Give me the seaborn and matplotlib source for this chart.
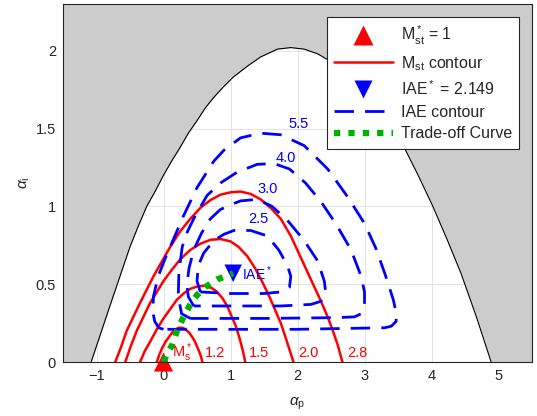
import numpy as np
import pandas as pd
import matplotlib
matplotlib.use("Agg")
import matplotlib.pyplot as plt
import seaborn as sns
from matplotlib.lines import Line2D

# ---------------- data ----------------
# stability boundary (alpha_p, alpha_i)
boundary_x = [-1.08, -0.94, -0.8, -0.65, -0.5, -0.37, -0.25, -0.12, 0.0, 0.12, 0.25, 0.37, 0.5, 0.62, 0.75,
              0.9, 1.04, 1.25, 1.45, 1.7, 1.9, 2.1, 2.3, 2.5, 2.7, 2.9, 3.1, 3.35, 3.59, 3.8, 4.02, 4.23,
              4.44, 4.67, 4.89]
boundary_y = [0.0, 0.18, 0.36, 0.55, 0.74, 0.88, 1.0, 1.1, 1.2, 1.29, 1.38, 1.47, 1.55, 1.63, 1.7,
              1.77, 1.83, 1.9, 1.96, 2.01, 2.02, 2.01, 1.98, 1.93, 1.87, 1.78, 1.68, 1.54, 1.38, 1.2, 1.0, 0.79,
              0.57, 0.29, 0.0]

# Mst contours
ms_levels = ["1.2", "1.5", "2.0", "2.8"]
ms12_x = [-0.10, -0.06, -0.02, 0.03, 0.08, 0.13, 0.18, 0.23, 0.28, 0.33, 0.38, 0.43, 0.47, 0.5, 0.53, 0.56, 0.58]
ms12_y = [0.0, 0.05, 0.09, 0.13, 0.16, 0.19, 0.21, 0.22, 0.22, 0.21, 0.19, 0.16, 0.13, 0.10, 0.07, 0.035, 0.0]
ms15_x = [-0.35, -0.28, -0.2, -0.1, 0.0, 0.1, 0.2, 0.3, 0.4, 0.5, 0.62, 0.72, 0.8, 0.88, 0.95, 1.02, 1.08, 1.13, 1.18, 1.22]
ms15_y = [0.0, 0.07, 0.13, 0.21, 0.28, 0.34, 0.40, 0.44, 0.47, 0.485, 0.49, 0.475, 0.45, 0.41, 0.36, 0.29, 0.23, 0.16, 0.08, 0.0]
ms20_x = [-0.57, -0.49, -0.4, -0.3, -0.2, 0.0, 0.12, 0.25, 0.4, 0.55, 0.7, 0.85, 1.0, 1.12, 1.25, 1.37, 1.48,
          1.58, 1.67, 1.75, 1.82, 1.88, 1.94]
ms20_y = [0.0, 0.1, 0.2, 0.29, 0.38, 0.52, 0.59, 0.66, 0.72, 0.76, 0.785, 0.79, 0.775, 0.74, 0.68, 0.60, 0.51,
          0.42, 0.33, 0.25, 0.16, 0.08, 0.0]
ms28_x = [-0.72, -0.63, -0.55, -0.45, -0.35, -0.15, 0.1, 0.25, 0.4, 0.55, 0.7, 0.85, 1.0, 1.15, 1.3, 1.45, 1.6,
          1.75, 1.9, 2.05, 2.2, 2.34, 2.45, 2.52, 2.6, 2.67]
ms28_y = [0.0, 0.1, 0.2, 0.29, 0.38, 0.55, 0.74, 0.84, 0.92, 0.99, 1.04, 1.075, 1.09, 1.095, 1.08, 1.045, 0.99,
          0.92, 0.81, 0.67, 0.53, 0.40, 0.29, 0.21, 0.11, 0.0]
ms_label_x = [0.77, 1.42, 2.17, 2.9]
ms_label_y = [0.06, 0.06, 0.06, 0.06]

# IAE contours (closed loops)
iae_levels = ["2.5", "3.0", "4.0", "5.5"]
iae25_x = [0.55, 0.5, 0.52, 0.6, 0.75, 0.9, 1.05, 1.3, 1.55, 1.72, 1.85, 1.9, 1.88, 1.75, 1.5, 1.0, 0.55]
iae25_y = [0.45, 0.52, 0.62, 0.70, 0.78, 0.82, 0.845, 0.845, 0.81, 0.72, 0.62, 0.55, 0.48, 0.45, 0.44, 0.44, 0.45]
iae30_x = [0.45, 0.37, 0.35, 0.38, 0.45, 0.57, 0.7, 0.85, 1.0, 1.15, 1.4, 1.62, 1.85, 2.1, 2.3, 2.4, 2.42, 2.35,
           2.2, 1.75, 1.0, 0.45]
iae30_y = [0.36, 0.42, 0.5, 0.6, 0.72, 0.83, 0.92, 0.98, 1.01, 1.035, 1.045, 1.0, 0.91, 0.78, 0.65, 0.52, 0.45,
           0.39, 0.37, 0.36, 0.36, 0.36]
iae40_x = [0.4, 0.27, 0.22, 0.23, 0.28, 0.36, 0.45, 0.65, 0.85, 1.1, 1.4, 1.65, 1.88, 2.12, 2.35, 2.57, 2.8,
           2.95, 3.0, 3.0, 2.95, 2.85, 2.6, 1.5, 0.4]
iae40_y = [0.28, 0.31, 0.42, 0.58, 0.74, 0.84, 0.92, 1.07, 1.15, 1.22, 1.27, 1.275, 1.24, 1.15, 1.03, 0.89, 0.72,
           0.55, 0.45, 0.36, 0.31, 0.29, 0.285, 0.28, 0.28]
iae55_x = [0.0, -0.07, -0.13, -0.16, -0.15, -0.08, 0.02, 0.15, 0.3, 0.5, 0.75, 0.9, 1.15, 1.45, 1.75, 2.1, 2.45,
           2.75, 3.0, 3.17, 3.31, 3.43, 3.48, 3.47, 3.4, 3.3, 2.0, 0.0]
iae55_y = [0.21, 0.22, 0.26, 0.32, 0.42, 0.55, 0.66, 0.79, 0.94, 1.12, 1.29, 1.36, 1.44, 1.47, 1.46, 1.39, 1.24,
           1.06, 0.89, 0.73, 0.56, 0.40, 0.30, 0.26, 0.23, 0.22, 0.21, 0.21]
iae_label_x = [1.42, 1.55, 1.82, 2.02]
iae_label_y = [0.92, 1.11, 1.31, 1.53]

# optimum points
ms_opt = (0.0, 0.0)
iae_opt = (1.04, 0.57)

# trade-off curve
trade_x = [0.0, 0.05, 0.13, 0.2, 0.3, 0.4, 0.5, 0.62, 0.8, 0.92, 1.04]
trade_y = [0.0, 0.05, 0.11, 0.2, 0.29, 0.37, 0.43, 0.48, 0.53, 0.55, 0.57]

x_ticks = [-1, 0, 1, 2, 3, 4, 5]
y_ticks = [0, 0.5, 1, 1.5, 2]
y_tick_labels = ["0", "0.5", "1", "1.5", "2"]

# ---------------- style ----------------
sns.set_style("white")
plt.rcParams["font.family"] = ["Liberation Sans", "DejaVu Sans"]
plt.rcParams["mathtext.fontset"] = "custom"
plt.rcParams["mathtext.rm"] = "Liberation Sans"
plt.rcParams["mathtext.it"] = "Liberation Sans:italic"
plt.rcParams["mathtext.bf"] = "Liberation Sans:bold"

DARK = "#262626"
RED = "#ff0000"
BLUE = "#0000ff"
GREEN = "#00b000"
GRAY = "#cccccc"
XMIN, XMAX, YMIN, YMAX = -1.5, 5.5, 0.0, 2.3

fig = plt.figure(figsize=(5.37, 4.16), dpi=100)
ax = fig.add_axes([63 / 537, 54 / 416, 469 / 537, 358 / 416])
ax.set_axisbelow(True)
ax.grid(True, color="#e3e3e3", lw=0.7)

# unstable region
fx = [XMIN] + boundary_x + [XMAX]
fy = [0.0] + boundary_y + [0.0]
ax.fill_between(fx, fy, YMAX, color=GRAY, lw=0, zorder=1)
sns.lineplot(x=boundary_x, y=boundary_y, sort=False, estimator=None, color="black", lw=0.8, ax=ax, legend=False, zorder=2)

# Mst contours
for cx, cy in [(ms12_x, ms12_y), (ms15_x, ms15_y), (ms20_x, ms20_y), (ms28_x, ms28_y)]:
    sns.lineplot(x=cx, y=cy, sort=False, estimator=None, color=RED, lw=1.8, ax=ax, legend=False, zorder=3)

# IAE contours
for cx, cy in [(iae25_x, iae25_y), (iae30_x, iae30_y), (iae40_x, iae40_y), (iae55_x, iae55_y)]:
    sns.lineplot(x=cx, y=cy, sort=False, estimator=None, color=BLUE, lw=2.0,
                 linestyle=(0, (7, 4)), ax=ax, legend=False, zorder=3)

# optimum markers
sns.scatterplot(x=[ms_opt[0]], y=[ms_opt[1]], marker="^", s=190, color=RED, edgecolor="none",
                ax=ax, legend=False, zorder=4, clip_on=False)
sns.scatterplot(x=[iae_opt[0]], y=[iae_opt[1]], marker="v", s=160, color=BLUE, edgecolor="none",
                ax=ax, legend=False, zorder=4, clip_on=False)

# trade-off curve
sns.lineplot(x=trade_x, y=trade_y, sort=False, estimator=None, color=GREEN, lw=4.5,
             linestyle=(0, (1, 1.3)), ax=ax, legend=False, zorder=5)

# labels
for lab, lx, ly in zip(ms_levels, ms_label_x, ms_label_y):
    ax.text(lx, ly, lab, color=RED, fontsize=10.5, ha="center", va="center", zorder=6)
ax.text(0.27, 0.06, r"$\mathrm{M}^*_{\mathrm{s}}$", color=RED, fontsize=10.5, ha="center", va="center", zorder=6)
for lab, lx, ly in zip(iae_levels, iae_label_x, iae_label_y):
    ax.text(lx, ly, lab, color=BLUE, fontsize=10.5, ha="center", va="center", zorder=6)
ax.text(1.17, 0.565, r"$\mathrm{IAE}^*$", color=BLUE, fontsize=10, ha="left", va="center", zorder=6)

ax.set_xlim(XMIN, XMAX)
ax.set_ylim(YMIN, YMAX)
ax.set_xticks(x_ticks)
ax.set_yticks(y_ticks)
ax.set_yticklabels(y_tick_labels)
ax.tick_params(direction="in", length=4, width=0.7, colors=DARK, labelsize=10.5, pad=5)
for sp in ax.spines.values():
    sp.set_visible(True)
    sp.set_color(DARK)
    sp.set_linewidth(0.8)
    sp.set_zorder(7)

ax.set_xlabel(r"$\alpha_{\mathrm{p}}$", fontsize=11, color=DARK, labelpad=9)
ax.set_ylabel(r"$\alpha_{\mathrm{i}}$", fontsize=11, color=DARK, labelpad=3)

handles = [
    Line2D([], [], ls="none", marker="^", color=RED, ms=14, mec="none"),
    Line2D([], [], color=RED, lw=1.8),
    Line2D([], [], ls="none", marker="v", color=BLUE, ms=13, mec="none"),
    Line2D([], [], color=BLUE, lw=2.0, ls=(0, (7, 4))),
    Line2D([], [], color=GREEN, lw=4.5, ls=(0, (1, 1.3))),
]
labels = [r"$\mathrm{M}^*_{\mathrm{st}}$ = 1", r"$\mathrm{M}_{\mathrm{st}}$ contour",
          r"$\mathrm{IAE}^*$ = 2.149", "IAE contour", "Trade-off Curve"]
leg = ax.legend(handles, labels, loc="upper right", fontsize=11.5, frameon=True, fancybox=False,
                edgecolor=DARK, framealpha=1, handlelength=3.7, borderaxespad=0.8,
                labelspacing=0.42, handletextpad=0.5, borderpad=0.45)
leg.get_frame().set_linewidth(0.8)
leg.set_zorder(10)

fig.savefig("out.png", dpi=100)
